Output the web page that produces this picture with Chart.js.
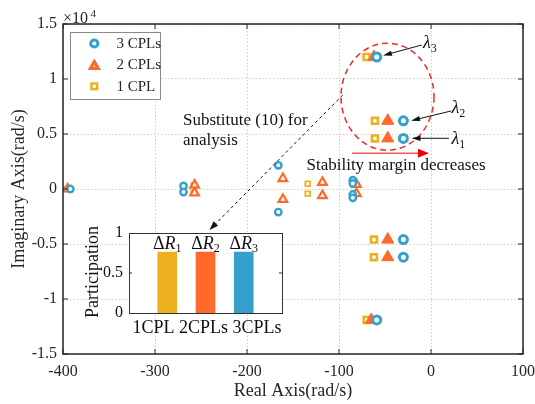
<!DOCTYPE html>
<html>
<head>
<meta charset="utf-8">
<script src="https://cdn.jsdelivr.net/npm/chart.js@4.4.0/dist/chart.umd.min.js"></script>
<style>
  html, body { margin: 0; padding: 0; background: #fff; }
  #wrap { position: relative; width: 535px; height: 404px; }
  #chart { position: absolute; left: 0; top: 0; }
  #inset { position: absolute; left: 80px; top: 215px; }
</style>
</head>
<body>
<div id="wrap">
  <canvas id="chart" width="535" height="404"></canvas>
  <canvas id="inset" width="215" height="130"></canvas>
</div>
<script>
'use strict';

// pole locations (real part rad/s, imaginary part rad/s)
const cpl3Real = [-59, -30, -30, -30, -30, -392, -269, -269, -166, -166, -85, -85, -85, -85, -59];
const cpl3Imag = [12000, 6200, 4600, -4600, -6200, 0, 280, -280, 2150, -2100, 800, 500, -500, -800, -11900];

const cpl2Real = [-62, -47, -47, -47, -47, -395, -257, -257, -161, -161, -118, -118, -81, -81, -65];
const cpl2Imag = [12000, 6200, 4600, -4600, -6200, 0, 350, -350, 950, -950, 600, -600, 420, -420, -11900];

const cpl1Real = [-70, -61, -61, -62, -62, -397, -258, -258, -166, -166, -134, -134, -70];
const cpl1Imag = [12000, 6200, 4600, -4600, -6200, 0, 330, -330, 2150, -2100, 480, -420, -11900];

const xTicks = [-400, -300, -200, -100, 0, 100];
const yTicks = [-15000, -10000, -5000, 0, 5000, 10000, 15000];

// inset: participation factors
const insetLabels = ['1CPL', '2CPLs', '3CPLs'];
const participation = [0.76, 0.76, 0.76];
const insetSubs = ['1', '2', '3'];
const insetTicks = [0, 0.5, 1];

const BLUE = '#35a0cc';
const ORANGE = '#ff6a2c';
const GOLD = '#edb120';
const barColors = [GOLD, ORANGE, BLUE];
const FONT = '"Liberation Serif", "Times New Roman", serif';
const AXIS = '#262626';

function toPoints(xs, ys) {
  return xs.map((x, i) => ({ x: x, y: ys[i] }));
}

// dominant poles are drawn with bigger markers
function big(ctx) {
  return ctx.raw && Math.abs(ctx.raw.y) > 3000;
}

function arrow(ctx, x1, y1, x2, y2, o) {
  const a = Math.atan2(y2 - y1, x2 - x1);
  const hl = o.head || 8, hw = o.hw || 3;
  ctx.save();
  ctx.strokeStyle = o.line || o.color;
  ctx.lineWidth = o.lw || 1;
  ctx.setLineDash(o.dash || []);
  ctx.beginPath();
  ctx.moveTo(x1, y1);
  ctx.lineTo(x2 - Math.cos(a) * hl * 0.7, y2 - Math.sin(a) * hl * 0.7);
  ctx.stroke();
  ctx.setLineDash([]);
  ctx.fillStyle = o.color;
  ctx.beginPath();
  ctx.moveTo(x2, y2);
  ctx.lineTo(x2 - hl * Math.cos(a) + hw * Math.sin(a), y2 - hl * Math.sin(a) - hw * Math.cos(a));
  ctx.lineTo(x2 - hl * Math.cos(a) - hw * Math.sin(a), y2 - hl * Math.sin(a) + hw * Math.cos(a));
  ctx.closePath();
  ctx.fill();
  ctx.restore();
}

function lambda(ctx, x, y, sub) {
  ctx.font = 'italic 18px ' + FONT;
  ctx.textAlign = 'left';
  ctx.textBaseline = 'alphabetic';
  ctx.fillStyle = '#111';
  ctx.fillText('\u03bb', x, y);
  const w = ctx.measureText('\u03bb').width;
  ctx.font = '12px ' + FONT;
  ctx.fillText(sub, x + w, y + 4);
}

const framePlugin = {
  id: 'frame',
  afterDraw(chart) {
    const ctx = chart.ctx;
    const a = chart.chartArea;
    const sx = chart.scales.x, sy = chart.scales.y;
    ctx.save();

    // box and inward ticks
    ctx.strokeStyle = AXIS;
    ctx.lineWidth = 1.5;
    ctx.strokeRect(a.left, a.top, a.right - a.left, a.bottom - a.top);
    ctx.lineWidth = 1;
    ctx.beginPath();
    xTicks.forEach(v => {
      const p = sx.getPixelForValue(v);
      ctx.moveTo(p, a.bottom); ctx.lineTo(p, a.bottom - 5);
      ctx.moveTo(p, a.top); ctx.lineTo(p, a.top + 5);
    });
    yTicks.forEach(v => {
      const p = sy.getPixelForValue(v);
      ctx.moveTo(a.left, p); ctx.lineTo(a.left + 5, p);
      ctx.moveTo(a.right, p); ctx.lineTo(a.right - 5, p);
    });
    ctx.stroke();

    // exponent
    ctx.fillStyle = AXIS;
    ctx.font = '16px ' + FONT;
    ctx.textAlign = 'left';
    ctx.textBaseline = 'alphabetic';
    ctx.fillText('\u00d710', 63, 23);
    ctx.font = '11px ' + FONT;
    ctx.fillText('4', 90.5, 17);

    // axis titles
    ctx.font = '18px ' + FONT;
    ctx.textAlign = 'center';
    ctx.textBaseline = 'middle';
    ctx.fillText('Real Axis(rad/s)', (a.left + a.right) / 2, 391);
    ctx.save();
    ctx.translate(19, (a.top + a.bottom) / 2);
    ctx.rotate(-Math.PI / 2);
    ctx.fillText('Imaginary Axis(rad/s)', 0, 0);
    ctx.restore();

    // legend
    ctx.fillStyle = '#fff';
    ctx.fillRect(70, 32, 90, 67);
    ctx.strokeStyle = '#8a8a8a';
    ctx.lineWidth = 1;
    ctx.strokeRect(70.5, 32.5, 90, 67);
    ctx.lineWidth = 3;
    ctx.strokeStyle = BLUE;
    ctx.beginPath();
    ctx.arc(94.3, 43.5, 3.6, 0, Math.PI * 2);
    ctx.stroke();
    ctx.fillStyle = ORANGE;
    ctx.beginPath();
    ctx.moveTo(94.3, 58.5);
    ctx.lineTo(101, 70);
    ctx.lineTo(87.6, 70);
    ctx.closePath();
    ctx.fill();
    ctx.fillStyle = '#fff';
    ctx.fillRect(93.6, 65.5, 1.4, 1.4);
    ctx.strokeStyle = GOLD;
    ctx.lineWidth = 2.5;
    ctx.strokeRect(91.5, 83.5, 5.6, 5.6);
    ctx.fillStyle = AXIS;
    ctx.font = '15px ' + FONT;
    ctx.textAlign = 'left';
    ctx.textBaseline = 'middle';
    ctx.fillText('3 CPLs', 116.5, 44);
    ctx.fillText('2 CPLs', 116.5, 65.5);
    ctx.fillText('1 CPL', 116.5, 87);

    // dashed ellipse around the dominant poles
    ctx.strokeStyle = '#e82a2a';
    ctx.lineWidth = 1.5;
    ctx.setLineDash([6, 4]);
    ctx.beginPath();
    ctx.ellipse(387.5, 96.7, 46.5, 53.5, 0, 0, Math.PI * 2);
    ctx.stroke();
    ctx.setLineDash([]);

    // lambda labels
    arrow(ctx, 421.7, 45, 383, 55.5, { color: '#111', head: 9, hw: 2.6 });
    arrow(ctx, 451, 111, 411, 120.7, { color: '#111', head: 9, hw: 2.6 });
    arrow(ctx, 449, 138.3, 411.5, 138.3, { color: '#111', head: 9, hw: 2.6 });
    lambda(ctx, 423, 48, '3');
    lambda(ctx, 451.5, 113, '2');
    lambda(ctx, 451.5, 144, '1');

    // stability arrow and text
    arrow(ctx, 352, 153.3, 429, 153.3, { color: '#f00000', line: '#f25a5a', lw: 1.5, head: 11, hw: 4.5 });
    ctx.fillStyle = '#111';
    ctx.font = '17px ' + FONT;
    ctx.textAlign = 'left';
    ctx.textBaseline = 'middle';
    ctx.fillText('Stability margin decreases', 306.5, 166);
    ctx.fillText('Substitute (10) for', 183, 121);
    ctx.fillText('analysis', 183, 141);

    // dashed pointer to the inset
    arrow(ctx, 342.7, 95, 209.5, 230, { color: '#111', dash: [3, 3], head: 9, hw: 3.2 });

    ctx.restore();
  }
};

const ctxMain = document.getElementById('chart').getContext('2d');

new Chart(ctxMain, {
  type: 'scatter',
  data: {
    datasets: [{
      label: '3 CPLs',
      data: toPoints(cpl3Real, cpl3Imag),
      pointStyle: 'circle',
      borderColor: BLUE,
      backgroundColor: '#fff',
      pointRadius: ctx => big(ctx) ? 4 : 3.2,
      borderWidth: ctx => big(ctx) ? 3 : 2.4
    }, {
      label: '2 CPLs',
      data: toPoints(cpl2Real, cpl2Imag),
      pointStyle: 'triangle',
      borderColor: ORANGE,
      backgroundColor: ctx => big(ctx) ? ORANGE : '#fff',
      pointRadius: ctx => big(ctx) ? 7 : 5,
      borderWidth: ctx => big(ctx) ? 1 : 2.2
    }, {
      label: '1 CPL',
      data: toPoints(cpl1Real, cpl1Imag),
      pointStyle: 'rect',
      borderColor: GOLD,
      backgroundColor: '#fff',
      pointRadius: ctx => big(ctx) ? 4.2 : 3.3,
      borderWidth: ctx => big(ctx) ? 2.6 : 1.8
    }]
  },
  options: {
    responsive: false,
    animation: false,
    events: [],
    layout: { padding: { left: 0, right: 12, top: 24, bottom: 0 } },
    plugins: { legend: { display: false }, tooltip: { enabled: false } },
    scales: {
      x: {
        type: 'linear',
        min: -400,
        max: 100,
        afterBuildTicks: s => { s.ticks = xTicks.map(v => ({ value: v })); },
        afterFit: s => { s.height = 50; s.paddingLeft = 0; s.paddingRight = 0; },
        ticks: { color: AXIS, font: { family: FONT, size: 16 }, padding: 8, maxRotation: 0 },
        grid: { color: '#cfcfcf', drawTicks: false },
        border: { display: false, dash: [1.5, 2] }
      },
      y: {
        min: -15000,
        max: 15000,
        afterBuildTicks: s => { s.ticks = yTicks.map(v => ({ value: v })); },
        afterFit: s => { s.width = 63; s.paddingTop = 0; s.paddingBottom = 0; },
        ticks: {
          color: AXIS,
          font: { family: FONT, size: 16 },
          padding: 6,
          callback: v => String(v / 10000)
        },
        grid: { color: '#cfcfcf', drawTicks: false },
        border: { display: false, dash: [1.5, 2] }
      }
    }
  },
  plugins: [framePlugin]
});

// ----- inset bar chart -----
const insetCats = [''].concat(insetLabels, ['']);

const insetPlugin = {
  id: 'insetFrame',
  beforeDatasetsDraw(chart) {
    const a = chart.chartArea;
    chart.ctx.save();
    chart.ctx.fillStyle = '#fff';
    chart.ctx.fillRect(a.left, a.top, a.right - a.left, a.bottom - a.top);
    chart.ctx.restore();
  },
  afterDraw(chart) {
    const ctx = chart.ctx;
    const a = chart.chartArea;
    const sx = chart.scales.x, sy = chart.scales.y;
    ctx.save();
    ctx.strokeStyle = '#333';
    ctx.lineWidth = 1;
    ctx.strokeRect(a.left + 0.5, a.top + 0.5, a.right - a.left, a.bottom - a.top);
    ctx.beginPath();
    [0.5].forEach(v => {
      const p = sy.getPixelForValue(v);
      ctx.moveTo(a.left, p); ctx.lineTo(a.left + 3, p);
      ctx.moveTo(a.right, p); ctx.lineTo(a.right - 3, p);
    });
    ctx.stroke();

    // delta R labels above the bars
    insetSubs.forEach((s, i) => {
      const cx = sx.getPixelForValue(i + 1);
      ctx.font = '18px ' + FONT;
      const w1 = ctx.measureText('\u0394').width;
      ctx.font = 'italic 18px ' + FONT;
      const w2 = ctx.measureText('R').width;
      ctx.font = '12px ' + FONT;
      const w3 = ctx.measureText(s).width;
      let x = cx - (w1 + w2 + w3) / 2;
      const y = 34;
      ctx.fillStyle = '#111';
      ctx.textAlign = 'left';
      ctx.textBaseline = 'alphabetic';
      ctx.font = '18px ' + FONT;
      ctx.fillText('\u0394', x, y);
      x += w1;
      ctx.font = 'italic 18px ' + FONT;
      ctx.fillText('R', x, y);
      x += w2;
      ctx.font = '12px ' + FONT;
      ctx.fillText(s, x, y + 3);
    });

    // category labels, written as one line under the axis
    ctx.fillStyle = '#111';
    ctx.font = '18px ' + FONT;
    ctx.textAlign = 'center';
    ctx.textBaseline = 'middle';
    ctx.fillText(insetLabels.join(' '), (a.left + a.right) / 2 + 1.5, a.bottom + 15.5);

    ctx.translate(13, 57);
    ctx.rotate(-Math.PI / 2);
    ctx.fillText('Participation', 0, 0);
    ctx.restore();
  }
};

new Chart(document.getElementById('inset').getContext('2d'), {
  type: 'bar',
  data: {
    labels: insetCats,
    datasets: [{
      data: [null].concat(participation, [null]),
      backgroundColor: ctx => barColors[ctx.dataIndex - 1] || '#fff',
      barThickness: 19
    }]
  },
  options: {
    responsive: false,
    animation: false,
    events: [],
    layout: { padding: { left: 0, right: 13, top: 18, bottom: 0 } },
    plugins: { legend: { display: false }, tooltip: { enabled: false } },
    scales: {
      x: {
        type: 'category',
        offset: false,
        afterFit: s => { s.height = 32; s.paddingLeft = 0; s.paddingRight = 0; },
        ticks: { display: false },
        grid: { display: false, drawTicks: false },
        border: { display: false }
      },
      y: {
        min: 0,
        max: 1,
        afterBuildTicks: s => { s.ticks = insetTicks.map(v => ({ value: v })); },
        afterFit: s => { s.width = 49; s.paddingTop = 0; s.paddingBottom = 0; },
        ticks: {
          color: '#111',
          font: { family: FONT, size: 16 },
          padding: 6,
          callback: v => String(v)
        },
        grid: { display: false, drawTicks: false },
        border: { display: false }
      }
    }
  },
  plugins: [insetPlugin]
});
</script>
</body>
</html>
